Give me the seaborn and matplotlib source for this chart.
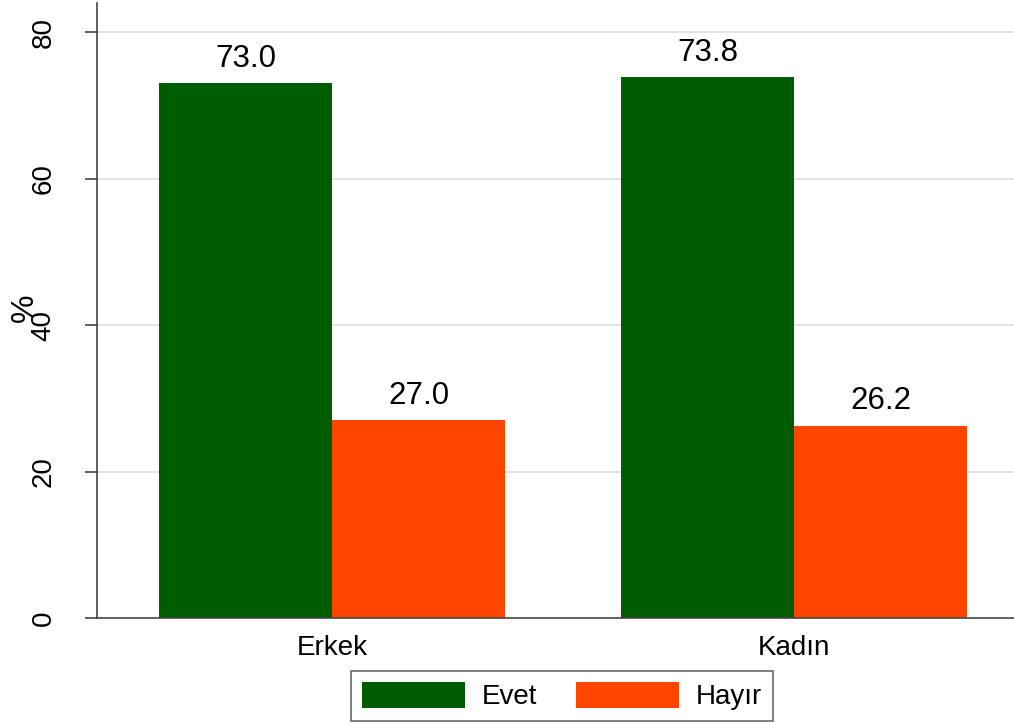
import numpy as np
import pandas as pd
import seaborn as sns
import matplotlib
import matplotlib.pyplot as plt

matplotlib.use('Agg')

groups = ['Erkek', 'Kadın']
answers = ['Evet', 'Hayır']
evet_values = [73.0, 73.8]
hayir_values = [27.0, 26.2]
colors = ['#005C00', '#FF4500']

df = pd.DataFrame({
    'group': groups * 2,
    'answer': [answers[0]] * 2 + [answers[1]] * 2,
    'value': evet_values + hayir_values,
})

sns.set_style('white')
plt.rcParams['font.family'] = ['Liberation Sans', 'DejaVu Sans']
plt.rcParams['text.color'] = 'black'
plt.rcParams['axes.labelcolor'] = 'black'

fig = plt.figure(figsize=(10.14, 7.23), dpi=100)
ax = fig.add_axes([97 / 1014, 1 - 618 / 723, (1014 - 97) / 1014, (618 - 3) / 723])

sns.barplot(data=df, x='group', y='value', hue='answer', palette=colors,
            width=0.749, saturation=1, ax=ax, legend=True, edgecolor='none')

for container in ax.containers:
    ax.bar_label(container, fmt='%.1f', padding=7, fontsize=22.5, color='black')

ax.set_ylim(0, 83.96)
ax.set_xlim(-0.509, 1.476)
ax.set_yticks([0, 20, 40, 60, 80])
ax.set_yticklabels(['0', '20', '40', '60', '80'], rotation=90, va='center', fontsize=20)
ax.tick_params(axis='x', labelsize=20, length=0, pad=12, labelcolor='black')
ax.tick_params(axis='y', length=9, width=1.2, color='#444444', pad=20, left=True, labelcolor='black')
for y in [20, 40, 60, 80]:
    ax.axhline(y, color='#E0E0E0', lw=1.3, zorder=0)
ax.set_axisbelow(True)

for side in ['top', 'right']:
    ax.spines[side].set_visible(False)
for side in ['left', 'bottom']:
    ax.spines[side].set_color('#444444')
    ax.spines[side].set_linewidth(1.2)

ax.set_xlabel('')
ax.set_ylabel('%', fontsize=23, va='center')
ax.yaxis.set_label_coords(-0.0785, 0.504)

handles, labels = ax.get_legend_handles_labels()
ax.legend(handles, labels, loc='upper center', bbox_to_anchor=(0.507, -0.086), ncol=2,
          fontsize=20, frameon=True, fancybox=False, edgecolor='#444444', borderpad=0.4,
          borderaxespad=0, handlelength=3.7, handleheight=1.05, columnspacing=1.4,
          handletextpad=0.6)
ax.get_legend().get_frame().set_linewidth(1.2)

plt.savefig('out.png', dpi=100)
plt.close('all')
